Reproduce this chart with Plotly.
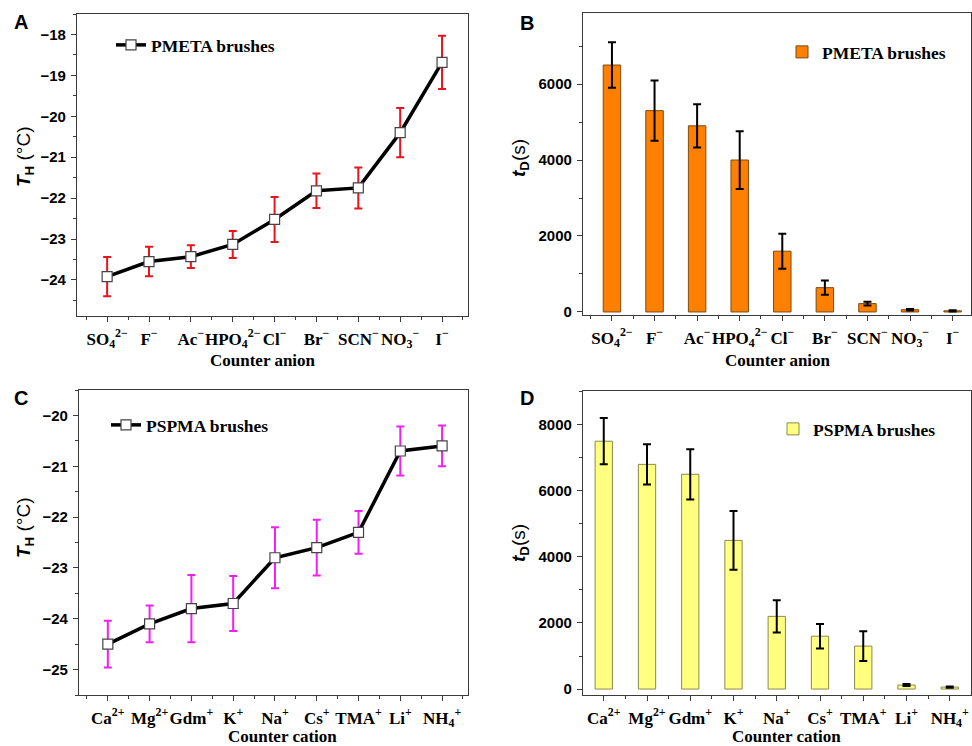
import plotly.graph_objects as go

W, H = 972, 746

anions = ["SO<sub>4</sub><sup>2−</sup>", "F<sup>−</sup>", "Ac<sup>−</sup>", "HPO<sub>4</sub><sup>2−</sup>",
          "Cl<sup>−</sup>", "Br<sup>−</sup>", "SCN<sup>−</sup>", "NO<sub>3</sub><sup>−</sup>", "I<sup>−</sup>"]
cations = ["Ca<sup>2+</sup>", "Mg<sup>2+</sup>", "Gdm<sup>+</sup>", "K<sup>+</sup>", "Na<sup>+</sup>",
           "Cs<sup>+</sup>", "TMA<sup>+</sup>", "Li<sup>+</sup>", "NH<sub>4</sub><sup>+</sup>"]

th_anion = [-23.92, -23.55, -23.43, -23.13, -22.52, -21.82, -21.75, -20.40, -18.68]
th_anion_err = [0.48, 0.36, 0.28, 0.33, 0.55, 0.42, 0.50, 0.60, 0.65]

td_anion = [6500, 5300, 4900, 4000, 1600, 640, 220, 60, 30]
td_anion_err = [600, 790, 570, 760, 460, 190, 50, 20, 15]

th_cation = [-24.50, -24.10, -23.80, -23.70, -22.80, -22.60, -22.30, -20.70, -20.60]
th_cation_err = [0.46, 0.36, 0.66, 0.54, 0.60, 0.55, 0.42, 0.48, 0.40]

td_cation = [7500, 6800, 6500, 4500, 2200, 1600, 1300, 120, 60]
td_cation_err = [700, 610, 760, 890, 490, 370, 450, 30, 20]

pos = list(range(len(anions)))

SERIF = "Liberation Serif"
SANS = "Liberation Sans"
LINEC = "#3a3a3a"


def px_x(p):
    return p / W


def px_y(p):
    return 1 - p / H


fig = go.Figure()

# Panel A
fig.add_trace(go.Scatter(
    x=pos, y=th_anion, mode="lines+markers", name="PMETA brushes",
    line=dict(color="black", width=3.5),
    marker=dict(symbol="square", size=10, color="white", line=dict(color="#444", width=1.2)),
    error_y=dict(type="data", array=th_anion_err, color="#e8141c", thickness=2, width=4),
    xaxis="x", yaxis="y", legend="legend"))

# Panel B
fig.add_trace(go.Bar(
    x=pos, y=td_anion, name="PMETA brushes", width=0.41,
    marker=dict(color="#ff8000", line=dict(color="#7a4a10", width=1)),
    error_y=dict(type="data", array=td_anion_err, color="black", thickness=2, width=4),
    xaxis="x2", yaxis="y2", legend="legend2"))

# Panel C
fig.add_trace(go.Scatter(
    x=pos, y=th_cation, mode="lines+markers", name="PSPMA brushes",
    line=dict(color="black", width=3.5),
    marker=dict(symbol="square", size=10, color="white", line=dict(color="#444", width=1.2)),
    error_y=dict(type="data", array=th_cation_err, color="#f020f0", thickness=2, width=4),
    xaxis="x3", yaxis="y3", legend="legend3"))

# Panel D
fig.add_trace(go.Bar(
    x=pos, y=td_cation, name="PSPMA brushes", width=0.40,
    marker=dict(color="#ffff80", line=dict(color="#8a8a50", width=1)),
    error_y=dict(type="data", array=td_cation_err, color="black", thickness=2, width=4),
    xaxis="x4", yaxis="y4", legend="legend4"))

xtickfont = dict(family=SERIF, size=17, color="black", weight="bold")
ytickfont = dict(family=SANS, size=15, color="black", weight="bold")


def xaxis(domain, rng, labels):
    return dict(domain=domain, range=rng, tickmode="array", tickvals=pos, ticktext=labels,
                tickangle=0,
                showline=True, linecolor=LINEC, linewidth=1.3, mirror=True,
                ticks="outside", ticklen=5, tickwidth=1, tickcolor=LINEC,
                minor=dict(ticks="outside", dtick=0.5, tick0=0, ticklen=3, tickcolor=LINEC),
                showgrid=False, zeroline=False, tickfont=xtickfont, automargin=False,
                ticklabelstandoff=2, fixedrange=True)


def yaxis(domain, rng, dtick, minor):
    return dict(domain=domain, range=rng, dtick=dtick, tick0=0,
                showline=True, linecolor=LINEC, linewidth=1.3, mirror=True,
                ticks="outside", ticklen=5, tickwidth=1, tickcolor=LINEC,
                minor=dict(ticks="outside", dtick=minor, ticklen=3, tickcolor=LINEC),
                showgrid=False, zeroline=False, tickfont=ytickfont, automargin=False,
                ticklabelstandoff=2, fixedrange=True)


fig.update_layout(
    width=W, height=H, margin=dict(l=0, r=0, t=0, b=0),
    paper_bgcolor="white", plot_bgcolor="white",
    xaxis=dict(**xaxis([px_x(77), px_x(468)], [-0.72, 8.62], anions), anchor="y"),
    yaxis=dict(**yaxis([px_y(316), px_y(14)], [-24.88, -17.5], 1, 0.5), anchor="x"),
    xaxis2=dict(**xaxis([px_x(583), px_x(970.5)], [-0.68, 8.42], anions), anchor="y2"),
    yaxis2=dict(**yaxis([px_y(315), px_y(13)], [-80, 7870], 2000, 1000), anchor="x2"),
    xaxis3=dict(**xaxis([px_x(79), px_x(468)], [-0.69, 8.62], cations), anchor="y3"),
    yaxis3=dict(**yaxis([px_y(695), px_y(390)], [-25.5, -19.5], 1, 0.5), anchor="x3"),
    xaxis4=dict(**xaxis([px_x(583), px_x(970.5)], [-0.48, 8.48], cations), anchor="y4"),
    yaxis4=dict(**yaxis([px_y(695), px_y(391)], [-180, 9020], 2000, 1000), anchor="x4"),
    showlegend=True,
)

legfont = dict(family=SERIF, size=17.5, color="black", weight="bold")
fig.update_layout(
    legend=dict(x=px_x(111), y=px_y(45), xanchor="left", yanchor="middle", font=legfont,
                bgcolor="rgba(0,0,0,0)", itemwidth=30),
    legend2=dict(x=px_x(782), y=px_y(52), xanchor="left", yanchor="middle", font=legfont,
                 bgcolor="rgba(0,0,0,0)", itemwidth=30),
    legend3=dict(x=px_x(106), y=px_y(425), xanchor="left", yanchor="middle", font=legfont,
                 bgcolor="rgba(0,0,0,0)", itemwidth=30),
    legend4=dict(x=px_x(773), y=px_y(429), xanchor="left", yanchor="middle", font=legfont,
                 bgcolor="rgba(0,0,0,0)", itemwidth=30),
)

ann = []
# panel letters
for txt, x, y in [("A", 21, 22), ("B", 527, 23), ("C", 21, 398), ("D", 527, 398)]:
    ann.append(dict(text=txt, x=px_x(x), y=px_y(y), xref="paper", yref="paper", showarrow=False,
                    xanchor="center", yanchor="middle",
                    font=dict(family=SANS, size=20, color="black", weight="bold")))
# x titles
for txt, x, y in [("Counter anion", 263, 360), ("Counter anion", 778, 360),
                  ("Counter cation", 282, 736), ("Counter cation", 786, 736)]:
    ann.append(dict(text=txt, x=px_x(x), y=px_y(y), xref="paper", yref="paper", showarrow=False,
                    xanchor="center", yanchor="middle",
                    font=dict(family=SERIF, size=17, color="black", weight="bold")))
# y titles
th_title = "<i>T</i><sub>H</sub> <span style='font-weight:normal'>(°C)</span>"
td_title = "<i>t</i><sub>D</sub><span style='font-weight:normal'>(s)</span>"
for txt, x, y, fam in [(th_title, 25, 157, SANS), (td_title, 520, 158, SANS),
                       (th_title, 25, 528, SANS), (td_title, 520, 543, SANS)]:
    ann.append(dict(text=txt, x=px_x(x), y=px_y(y), xref="paper", yref="paper", showarrow=False,
                    xanchor="center", yanchor="middle", textangle=-90,
                    font=dict(family=fam, size=19, color="black", weight="bold")))
fig.update_layout(annotations=ann)

fig.write_html("out.html", config={"displayModeBar": False},
               post_script="document.body.style.margin='0';document.body.style.overflow='hidden';")
